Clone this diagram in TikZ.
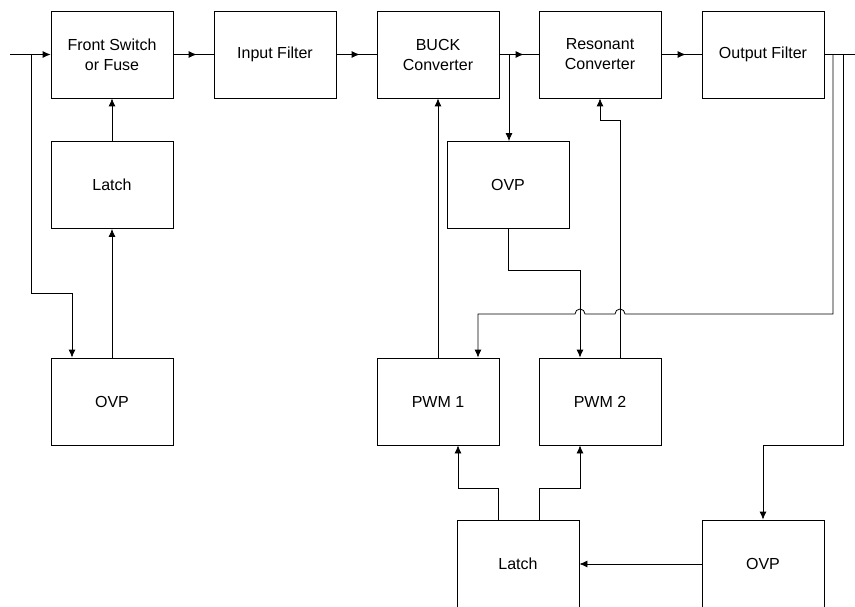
\documentclass[tikz,border=0pt]{standalone}
\usepackage{fontspec}
\setmainfont{Liberation Sans}
\usetikzlibrary{arrows.meta}

\begin{document}
\begin{tikzpicture}[x=1pt,y=-1pt,line width=0.8pt,
    block/.style={draw,minimum width=122pt,minimum height=87pt,align=center,
      font=\fontsize{16}{20}\selectfont,inner sep=0pt},
    arr/.style={-{Latex[length=8pt,width=7pt]}}]
    \useasboundingbox (0,0) rectangle (855,607);
    % top row
    \node[block] (fuse) at (112,54.5) {Front Switch\\or Fuse};
    \node[block] (infilt) at (275,54.5) {Input Filter};
    \node[block] (buck) at (438,54.5) {BUCK\\Converter};
    \node[block] (reson) at (600,54.5) {Resonant\\Converter};
    \node[block] (outfilt) at (763,54.5) {Output Filter};
    % left chain
    \node[block] (latchA) at (112,185) {Latch};
    \node[block] (ovpA) at (112,401.5) {OVP};
    % middle
    \node[block] (ovpB) at (508,185) {OVP};
    \node[block] (pwmA) at (438,401.5) {PWM 1};
    \node[block] (pwmB) at (600,401.5) {PWM 2};
    % bottom
    \node[block,minimum height=88pt] (latchB) at (518,564) {Latch};
    \node[block,minimum height=88pt] (ovpC) at (763,564) {OVP};

    \coordinate (vin) at (10,54.5);
    \coordinate (vout) at (855,54.5);

    \draw[arr] (vin)--(fuse.west);
    \draw (fuse.east)--(infilt.west);
    \draw[arr] (fuse.east)--([xshift=-17pt]infilt.west);
    \draw (infilt.east)--(buck.west);
    \draw[arr] (infilt.east)--([xshift=-17pt]buck.west);
    \draw (buck.east)--(reson.west);
    \draw[arr] (buck.east)--([xshift=-15pt]reson.west);
    \draw (reson.east)--(outfilt.west);
    \draw[arr] (reson.east)--([xshift=-16pt]outfilt.west);
    \draw (outfilt.east)--(vout);

    \draw[arr] (31,54.5)--(31,293)--(72,293)--([xshift=-40pt]ovpA.north);
    \draw[arr] (ovpA.north)--(latchA.south);
    \draw[arr] (latchA.north)--(fuse.south);

    \draw[arr] (509,54.5)--([xshift=1pt]ovpB.north);
    \draw[arr] (ovpB.south)--(508,270)--(580,270)--([xshift=-20pt]pwmB.north);
    \draw[arr] (pwmA.north)--(buck.south);
    \draw[arr] ([xshift=20pt]pwmB.north)--(620,120)--(600,120)--(reson.south);

    \draw[arr] (833,54.5)--(833,314)--(625,314) arc (0:180:5pt)--(585,314)
      arc (0:180:5pt)--(478,314)--([xshift=40pt]pwmA.north);
    \draw[arr] (843,54.5)--(843,445)--(763,445)--(ovpC.north);
    \draw[arr] (ovpC.west)--(latchB.east);

    \draw[arr] ([xshift=-20pt]latchB.north)--(498,488)--(458,488)--([xshift=20pt]pwmA.south);
    \draw[arr] ([xshift=21pt]latchB.north)--(539,488)--(580,488)--([xshift=-20pt]pwmB.south);
\end{tikzpicture}
\end{document}
